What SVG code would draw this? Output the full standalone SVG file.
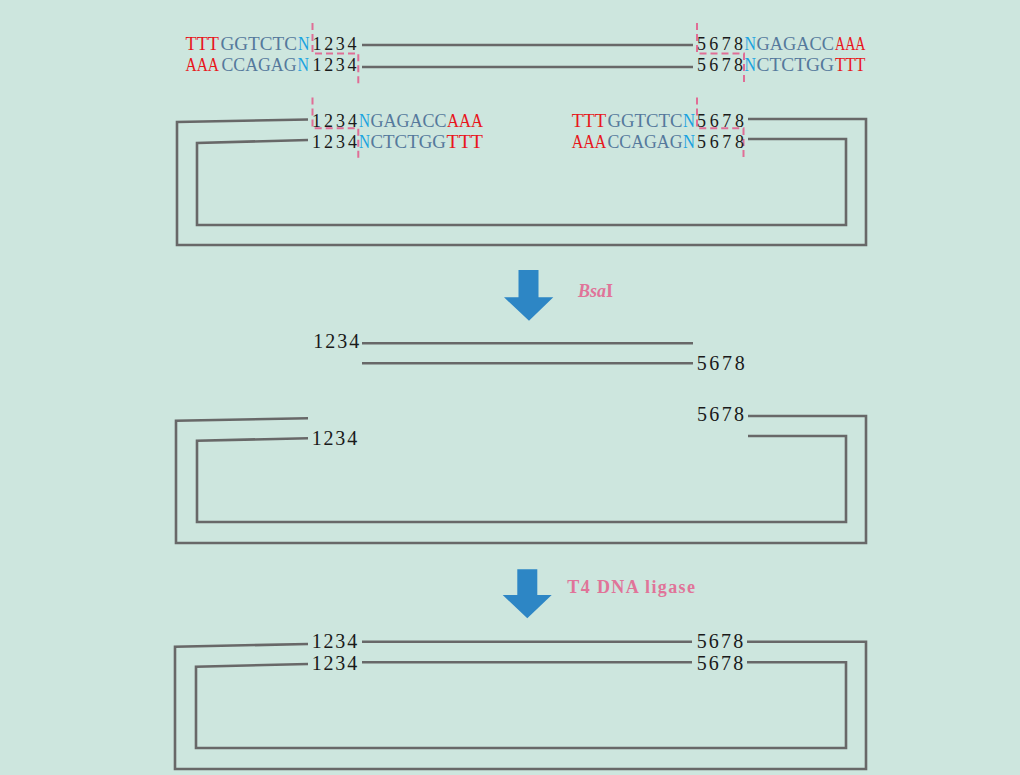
<svg xmlns="http://www.w3.org/2000/svg" width="1020" height="775" viewBox="0 0 1020 775">
<style>
.s{font-family:"Liberation Serif","DejaVu Serif",serif;font-size:18px}
.d{font-family:"Liberation Serif","DejaVu Serif",serif;font-size:20px;fill:#1a1a1a}
.r{fill:#e8161c}.b{fill:#55799c}.c{fill:#1aa3e0}.k{fill:#1a1a1a}
.ln{fill:none;stroke:#686868;stroke-width:2.6}
.cut{fill:none;stroke:#e06e96;stroke-width:2;stroke-dasharray:7 4}
.arr{fill:#2d86c5}
.lab{font-family:"Liberation Serif","DejaVu Serif",serif;font-size:18px;font-weight:bold;fill:#e07499}
</style>
<rect width="1020" height="775" fill="#cde6de"/>

<g id="connectors">
  <line class="ln" x1="362" y1="45" x2="693" y2="45"/>
  <line class="ln" x1="362" y1="67" x2="693" y2="67"/>
  <path class="ln" d="M308,119.5 L177,122 L177,245 L866,245 L866,119 L748,119"/>
  <path class="ln" d="M308,140 L197,143 L197,225 L846,225 L846,139 L748,139"/>
  <line class="ln" x1="362" y1="343.3" x2="693" y2="343.3"/>
  <line class="ln" x1="362" y1="363.3" x2="693" y2="363.3"/>
  <path class="ln" d="M308,418.3 L176,420.7 L176,543 L866,543 L866,416 L748,416"/>
  <path class="ln" d="M308,438.3 L197,440.7 L197,522 L846,522 L846,436 L748,436"/>
  <line class="ln" x1="362" y1="641.7" x2="692" y2="641.7"/>
  <line class="ln" x1="362" y1="662.3" x2="692" y2="662.3"/>
  <path class="ln" d="M308,644 L175,646.7 L175,769 L866,769 L866,641.7 L747,641.7"/>
  <path class="ln" d="M308,664 L196,666.7 L196,748 L846,748 L846,662.3 L747,662.3"/>
</g>

<g id="cut-sites">
  <path class="cut" d="M312.5,23 V53.5 H358.3 V86"/>
  <path class="cut" d="M697,23 V53.5 H744 V86"/>
  <path class="cut" d="M312.5,97.5 V128.3 H358.3 V158"/>
  <path class="cut" d="M697,97.5 V128.3 H743.5 V158"/>
</g>

<g id="left-site-top">
  <text class="s" y="49.5"><tspan class="r" x="185.5" textLength="33.5" lengthAdjust="spacingAndGlyphs">TTT</tspan><tspan class="b" x="220.5" textLength="76.5" lengthAdjust="spacingAndGlyphs">GGTCTC</tspan><tspan class="c" x="298" textLength="11.5" lengthAdjust="spacingAndGlyphs">N</tspan><tspan class="k" x="312.5" textLength="44" lengthAdjust="spacing">1234</tspan></text>
  <text class="s" y="71"><tspan class="r" x="185.5" textLength="33.5" lengthAdjust="spacingAndGlyphs">AAA</tspan><tspan class="b" x="221.5" textLength="75" lengthAdjust="spacingAndGlyphs">CCAGAG</tspan><tspan class="c" x="297.5" textLength="11.5" lengthAdjust="spacingAndGlyphs">N</tspan><tspan class="k" x="312.5" textLength="44" lengthAdjust="spacing">1234</tspan></text>
</g>

<g id="right-site-top">
  <text class="s" y="49.5"><tspan class="k" x="697" textLength="46" lengthAdjust="spacing">5678</tspan><tspan class="c" x="744.5" textLength="11.5" lengthAdjust="spacingAndGlyphs">N</tspan><tspan class="b" x="756.5" textLength="77.5" lengthAdjust="spacingAndGlyphs">GAGACC</tspan><tspan class="r" x="835" textLength="30.5" lengthAdjust="spacingAndGlyphs">AAA</tspan></text>
  <text class="s" y="71"><tspan class="k" x="697" textLength="46" lengthAdjust="spacing">5678</tspan><tspan class="c" x="744.5" textLength="11.5" lengthAdjust="spacingAndGlyphs">N</tspan><tspan class="b" x="756.5" textLength="77.5" lengthAdjust="spacingAndGlyphs">CTCTGG</tspan><tspan class="r" x="835" textLength="30.5" lengthAdjust="spacingAndGlyphs">TTT</tspan></text>
</g>

<g id="left-site-loop">
  <text class="s" y="126.5"><tspan class="k" x="312" textLength="45" lengthAdjust="spacing">1234</tspan><tspan class="c" x="359" textLength="11" lengthAdjust="spacingAndGlyphs">N</tspan><tspan class="b" x="370.5" textLength="76" lengthAdjust="spacingAndGlyphs">GAGACC</tspan><tspan class="r" x="447" textLength="36" lengthAdjust="spacingAndGlyphs">AAA</tspan></text>
  <text class="s" y="148.3"><tspan class="k" x="312" textLength="45" lengthAdjust="spacing">1234</tspan><tspan class="c" x="359" textLength="11" lengthAdjust="spacingAndGlyphs">N</tspan><tspan class="b" x="370.5" textLength="75.5" lengthAdjust="spacingAndGlyphs">CTCTGG</tspan><tspan class="r" x="446.5" textLength="36.5" lengthAdjust="spacingAndGlyphs">TTT</tspan></text>
</g>

<g id="right-site-loop">
  <text class="s" y="126.5"><tspan class="r" x="571.7" textLength="34.5" lengthAdjust="spacingAndGlyphs">TTT</tspan><tspan class="b" x="607.5" textLength="75" lengthAdjust="spacingAndGlyphs">GGTCTC</tspan><tspan class="c" x="683" textLength="12" lengthAdjust="spacingAndGlyphs">N</tspan><tspan class="k" x="697" textLength="47" lengthAdjust="spacing">5678</tspan></text>
  <text class="s" y="148.3"><tspan class="r" x="571.7" textLength="34.5" lengthAdjust="spacingAndGlyphs">AAA</tspan><tspan class="b" x="607.5" textLength="75" lengthAdjust="spacingAndGlyphs">CCAGAG</tspan><tspan class="c" x="683" textLength="12" lengthAdjust="spacingAndGlyphs">N</tspan><tspan class="k" x="697" textLength="47" lengthAdjust="spacing">5678</tspan></text>
</g>

<g id="arrow-bsai">
  <polygon class="arr" points="518.5,270 538.5,270 538.5,297.3 553.3,297.3 529,320.7 504,297.3 518.5,297.3"/>
  <text class="lab" x="578" y="297"><tspan font-style="italic">Bsa</tspan>I</text>
</g>

<g id="cut-fragment">
  <text class="d" x="313.3" y="348.3" textLength="46" lengthAdjust="spacing">1234</text>
  <text class="d" x="696.7" y="370" textLength="48" lengthAdjust="spacing">5678</text>
</g>

<g id="cut-vector">
  <text class="d" x="311.7" y="445" textLength="45.5" lengthAdjust="spacing">1234</text>
  <text class="d" x="697" y="421" textLength="47" lengthAdjust="spacing">5678</text>
</g>

<g id="arrow-ligase">
  <polygon class="arr" points="517.3,569.3 537.3,569.3 537.3,595 551.7,595 527.3,618.3 502.7,595 517.3,595"/>
  <text class="lab" x="567.3" y="593.3" textLength="127.7" lengthAdjust="spacing">T4 DNA ligase</text>
</g>

<g id="ligated">
  <text class="d" x="311.7" y="648.3" textLength="45.5" lengthAdjust="spacing">1234</text>
  <text class="d" x="311.7" y="670" textLength="45.5" lengthAdjust="spacing">1234</text>
  <text class="d" x="696.7" y="648.3" textLength="46.5" lengthAdjust="spacing">5678</text>
  <text class="d" x="696.7" y="670" textLength="46.5" lengthAdjust="spacing">5678</text>
</g>
</svg>
